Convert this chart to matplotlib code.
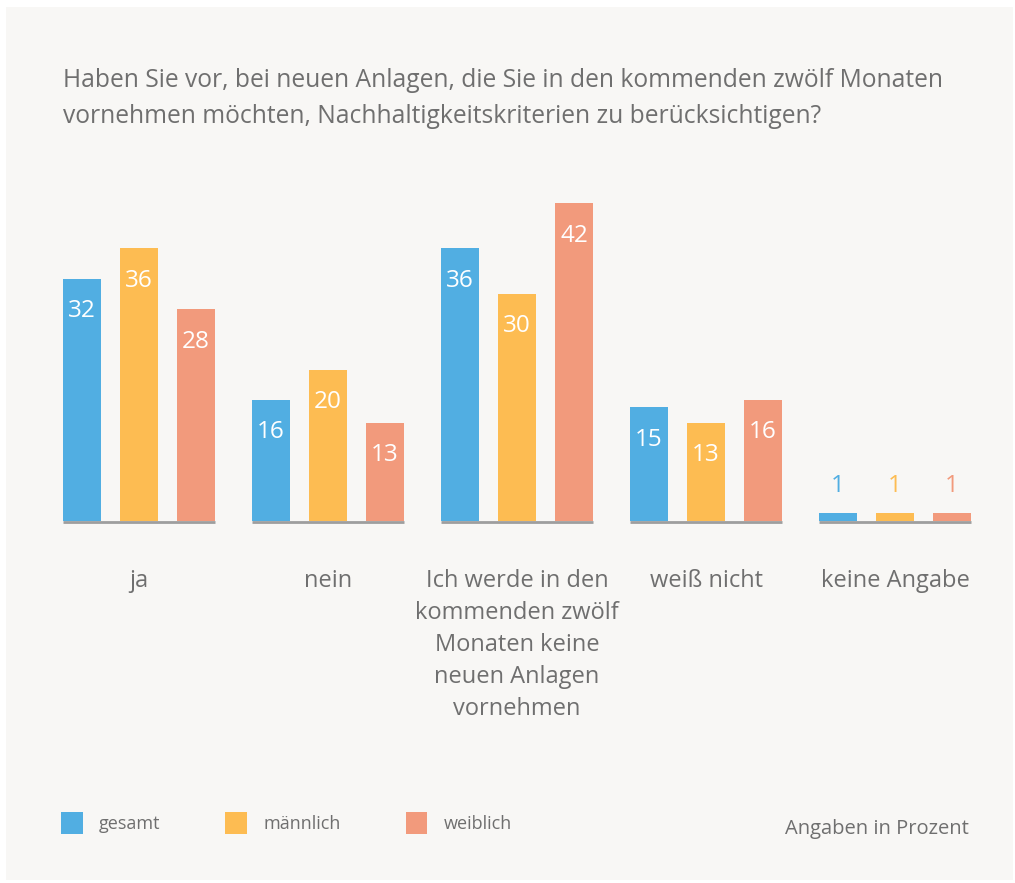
import numpy as np
import matplotlib
matplotlib.use("Agg")
import matplotlib.pyplot as plt
from matplotlib.patches import Rectangle, Patch

plt.rcParams['font.family'] = ['Open Sans', 'DejaVu Sans']

categories = ["ja", "nein",
              "Ich werde in den\nkommenden zwölf\nMonaten keine\nneuen Anlagen\nvornehmen",
              "weiß nicht", "keine Angabe"]
series = ["gesamt", "männlich", "weiblich"]
gesamt = [32, 16, 36, 15, 1]
maennlich = [36, 20, 30, 13, 1]
weiblich = [28, 13, 42, 16, 1]
colors = ["#51aee2", "#fdbc52", "#f29a7c"]

title = ("Haben Sie vor, bei neuen Anlagen, die Sie in den kommenden zwölf Monaten\n"
         "vornehmen möchten, Nachhaltigkeitskriterien zu berücksichtigen?")
note = "Angaben in Prozent"

W, H = 1015, 883
fig = plt.figure(figsize=(W / 100, H / 100), dpi=100, facecolor="white")

# light panel behind everything
fig.patches.append(Rectangle((6 / W, 3 / H), 1007 / W, 873 / H, transform=fig.transFigure,
                             facecolor="#f8f7f5", edgecolor="none", zorder=-5))

text_col = "#6f6f6f"

# axes placed in pixel terms: x 63..971, baseline y=521, top y=203
ax = fig.add_axes([63 / W, (H - 521) / H, 908 / W, 318 / H])
ax.set_facecolor("none")
ax.set_xlim(-0.402, len(categories) - 1 + 0.402)
ax.set_ylim(0, 42)
ax.axis("off")

step = 0.3016
width = 0.201
x = np.arange(len(categories))
for j, (vals, c) in enumerate(zip([gesamt, maennlich, weiblich], colors)):
    xs = x + (j - 1) * step
    ax.bar(xs, vals, width=width, color=c, zorder=2)
    for xi, v in zip(xs, vals):
        if v >= 5:
            ax.annotate(str(v), (xi, v), xytext=(0, -23.5), textcoords="offset points",
                        ha="center", va="center", color="white", fontsize=17.5)
        else:
            ax.annotate(str(v), (xi, v), xytext=(0, 20), textcoords="offset points",
                        ha="center", va="center", color=c, fontsize=17.5)

# grey baseline under each group
ax.hlines([-0.1] * len(x), x - 0.402, x + 0.402, color="#9e9e9e", lw=2, clip_on=False, zorder=1)

# category labels
for xi, lab in zip(x, categories):
    ax.annotate(lab, (xi, 0), xytext=(0, -34.5), textcoords="offset points",
                ha="center", va="top", color=text_col, fontsize=17, linespacing=1.44)

fig.text(63 / W, 1 - 98.5 / H, title, ha="left", va="center", color=text_col,
         fontsize=17.7, linespacing=1.55)
fig.text(1 - 46 / W, 1 - 829 / H, note, ha="right", va="center",
         color=text_col, fontsize=14.5)

handles = [Patch(facecolor=c, edgecolor="none", label=s) for s, c in zip(series, colors)]
fig.legend(handles=handles, loc="center left", bbox_to_anchor=(61 / W, 1 - 823 / H),
           ncol=3, frameon=False, fontsize=13, labelcolor=text_col,
           handlelength=1.2, handleheight=1.5, handletextpad=0.9, columnspacing=3.6,
           borderpad=0, borderaxespad=0)

fig.savefig("out.png", dpi=100, facecolor="white")
